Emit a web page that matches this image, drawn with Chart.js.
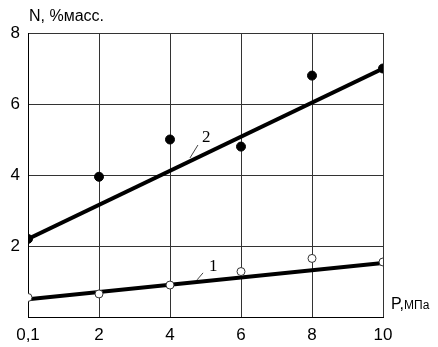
<!DOCTYPE html>
<html>
<head>
<meta charset="utf-8">
<script src="https://cdn.jsdelivr.net/npm/chart.js@4.4.0/dist/chart.umd.min.js"></script>
<style>
  html, body { margin: 0; padding: 0; background: #fff; }
  #wrap { width: 438px; height: 347px; }
</style>
</head>
<body>
<div id="wrap"><canvas id="c"></canvas></div>
<script>
// pressure positions (evenly spaced), shown labels
const xPos = [0, 2, 4, 6, 8, 10];
const xLabels = ['0,1', '2', '4', '6', '8', '10'];

// measured N, % mass
const series2 = [2.2, 3.95, 5.0, 4.8, 6.8, 7.0];
const series1 = [0.55, 0.65, 0.9, 1.28, 1.65, 1.55];

// fitted straight lines (end points)
const fit2 = [[0, 2.2], [10, 7.0]];
const fit1 = [[0, 0.5], [10, 1.52]];

// curve numbers at data position (text left / baseline)
const curveTags = [
  { text: '2', x: 4.9, y: 4.93 },
  { text: '1', x: 5.1, y: 1.3 }
];

const pts = (xs, ys) => xs.map((x, i) => ({ x, y: ys[i] }));
const line = arr => arr.map(p => ({ x: p[0], y: p[1] }));

const extras = {
  id: 'extras',
  afterDraw(chart) {
    const { ctx, chartArea: a, scales: { x, y } } = chart;
    ctx.save();
    ctx.fillStyle = '#000';
    ctx.textBaseline = 'alphabetic';
    ctx.font = '16px "Liberation Sans", Arial, sans-serif';
    ctx.textAlign = 'left';
    ctx.fillText('N, %масс.', a.left + 1, a.top - 12);
    ctx.fillText('P,', a.right + 8, a.bottom - 8);
    const w = ctx.measureText('P,').width;
    ctx.font = '12px "Liberation Sans", Arial, sans-serif';
    ctx.fillText('МПа', a.right + 8 + w, a.bottom - 8);

    ctx.font = '17px "Liberation Serif", "Times New Roman", serif';
    ctx.strokeStyle = '#444';
    ctx.lineWidth = 1;
    const leads = [[-4, 3, -12, 16], [-6, 2, -12, 9]];
    curveTags.forEach((t, i) => {
      const px = x.getPixelForValue(t.x), py = y.getPixelForValue(t.y);
      ctx.fillText(t.text, px, py);
      const l = leads[i];
      ctx.beginPath();
      ctx.moveTo(px + l[0], py + l[1]);
      ctx.lineTo(px + l[2], py + l[3]);
      ctx.stroke();
    });
    ctx.restore();
  }
};

new Chart(document.getElementById('c'), {
  type: 'scatter',
  data: {
    datasets: [
      { data: line(fit2), showLine: true, borderColor: '#000', borderWidth: 4, pointRadius: 0, order: 3 },
      { data: line(fit1), showLine: true, borderColor: '#000', borderWidth: 4, pointRadius: 0, order: 3 },
      { data: pts(xPos, series2), pointRadius: 4.5, backgroundColor: '#000', borderColor: '#000', borderWidth: 1, order: 1 },
      { data: pts(xPos, series1), pointRadius: 4, backgroundColor: '#fff', borderColor: '#333', borderWidth: 1, order: 1 }
    ]
  },
  options: {
    responsive: true,
    maintainAspectRatio: false,
    animation: false,
    layout: { padding: { top: 33, right: 55, left: 0, bottom: 0 } },
    plugins: { legend: { display: false }, tooltip: { enabled: false } },
    scales: {
      x: {
        type: 'linear', min: 0, max: 10,
        afterBuildTicks: s => { s.ticks = xPos.map(v => ({ value: v })); },
        afterFit: s => { s.height = 30; },
        grid: { color: '#333', lineWidth: 1, drawTicks: false },
        border: { color: '#000', width: 1 },
        ticks: {
          color: '#000', padding: 8, maxRotation: 0,
          font: { family: '"Liberation Sans", Arial, sans-serif', size: 17 },
          callback: (v) => xLabels[xPos.indexOf(v)]
        }
      },
      y: {
        min: 0, max: 8,
        afterBuildTicks: s => { s.ticks = [0, 2, 4, 6, 8].map(v => ({ value: v })); },
        afterFit: s => { s.width = 28; },
        grid: { color: '#333', lineWidth: 1, drawTicks: false },
        border: { color: '#000', width: 1 },
        ticks: {
          color: '#000', padding: 8,
          font: { family: '"Liberation Sans", Arial, sans-serif', size: 17 },
          callback: v => v === 0 ? '' : String(v)
        }
      }
    }
  },
  plugins: [extras]
});
</script>
</body>
</html>
